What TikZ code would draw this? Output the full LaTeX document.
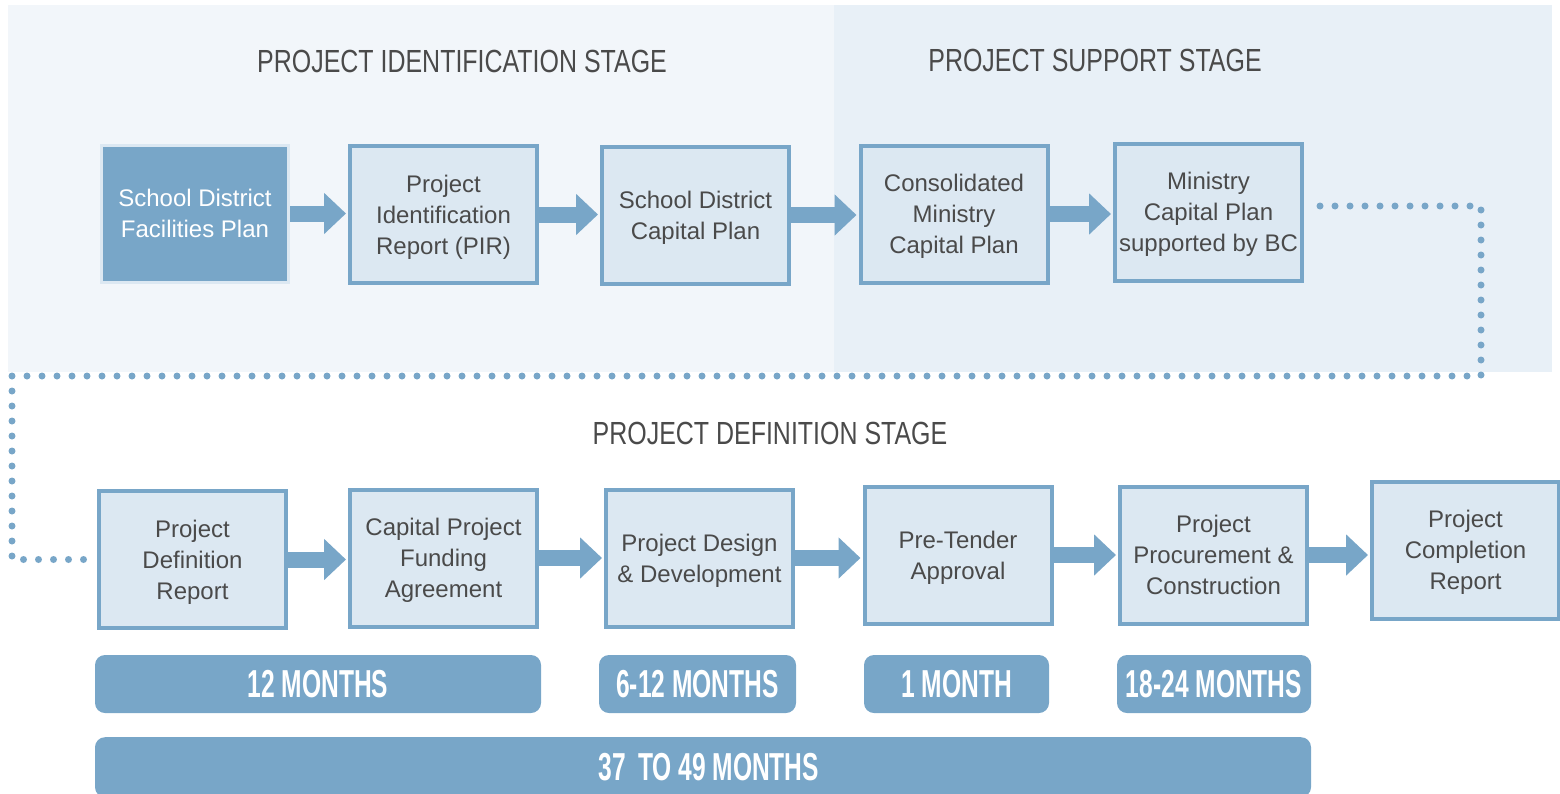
\documentclass[tikz,border=0pt]{standalone}
\usepackage{fontspec}
\setmainfont{Liberation Sans}
\newfontfamily\stagefont[FakeStretch=0.78]{Liberation Sans}
\newfontfamily\monthfont[FakeStretch=0.63]{Liberation Sans}
\usepackage{tikz}
\usetikzlibrary{positioning}
\usetikzlibrary{arrows.meta}
\usepackage{color}
\definecolor{planblue}{HTML}{78A6C8}
\definecolor{boxfill}{HTML}{DCE8F2}
\definecolor{panelleft}{HTML}{F2F6FA}
\definecolor{panelright}{HTML}{E8F0F7}
\definecolor{txtgray}{HTML}{4A4A4A}

\begin{document}
\begin{tikzpicture}[x=1pt, y=-1pt,
stagebox/.style={rectangle, draw=planblue, fill=boxfill, line width=4pt, minimum width=187pt, minimum height=137pt, inner sep=0pt, align=center, text depth=-3pt, text=txtgray, font=\fontsize{24}{31}\selectfont},
firstbox/.style={stagebox, draw=boxfill, fill=planblue, line width=3pt, text=white},
stagetitle/.style={anchor=base, inner sep=0pt, text=txtgray, font=\stagefont\fontsize{32}{36}\selectfont},
monthpill/.style={rectangle, rounded corners=10pt, fill=planblue, text=white, minimum height=58pt, inner sep=0pt, font=\monthfont\bfseries\fontsize{39}{40}\selectfont},
blockarrow/.style={draw=planblue, line width=16pt, -{Triangle[length=22pt, width=40pt]}, shorten >=2pt},
dotline/.style={draw=planblue, line width=7pt, line cap=round, dash pattern=on 0pt off 15pt},
]
\useasboundingbox (0,0) rectangle (1560,793);

%Panels
\fill[panelleft]  (8,5) rectangle (834,372);
\fill[panelright] (834,5) rectangle (1552,372);

%Titles
\node[stagetitle] (tid)  at (462,72)    {PROJECT IDENTIFICATION STAGE};
\node[stagetitle] (tsup) at (1095,71)   {PROJECT SUPPORT STAGE};
\node[stagetitle] (tdef) at (770,444.5) {PROJECT DEFINITION STAGE};

%Nodes
\node[firstbox] (sdfp) at (195,213.5)  {School District\\Facilities Plan};
\node[stagebox] (pir)  at (443.5,214.5) {Project\\Identification\\Report (PIR)};
\node[stagebox] (sdcp) at (695.5,215)  {School District\\Capital Plan};
\node[stagebox] (cmcp) at (954,214)    {Consolidated\\Ministry\\Capital Plan};
\node[stagebox] (mcp)  at (1208.5,212) {Ministry\\Capital Plan\\supported by BC};

\node[stagebox] (pdr)  at (192.5,559.5) {Project\\Definition\\Report};
\node[stagebox] (cpfa) at (443.5,558)  {Capital Project\\Funding\\Agreement};
\node[stagebox] (pdd)  at (699.5,558)  {Project Design\\\& Development};
\node[stagebox] (pta)  at (958,555)    {Pre-Tender\\Approval};
\node[stagebox] (ppc)  at (1213.5,555) {Project\\Procurement \&\\Construction};
\node[stagebox] (pcr)  at (1465.5,550) {Project\\Completion\\Report};

\node[monthpill, minimum width=446pt] (m12)   at (318,684)   {12 MONTHS};
\node[monthpill, minimum width=197pt] (m612)  at (697.5,684) {6-12 MONTHS};
\node[monthpill, minimum width=185pt] (m1)    at (956.5,684) {1 MONTH};
\node[monthpill, minimum width=194pt] (m1824) at (1214,684)  {18-24 MONTHS};
\node[monthpill, minimum width=1216pt, minimum height=60pt, anchor=north] (mtotal) at (703,737) {\hspace*{12pt}37\hspace{5pt} TO 49 MONTHS};

%Lines
\draw[blockarrow] (sdfp.east) -- (sdfp.east -| pir.west);
\draw[blockarrow] (pir.east)  -- (pir.east -| sdcp.west);
\draw[blockarrow] (sdcp.east) -- (sdcp.east -| cmcp.west);
\draw[blockarrow] (cmcp.east) -- (cmcp.east -| mcp.west);

\draw[blockarrow] (pdr.east)  -- (pdr.east -| cpfa.west);
\draw[blockarrow] (cpfa.east) -- (cpfa.east -| pdd.west);
\draw[blockarrow] (pdd.east)  -- (pdd.east -| pta.west);
\draw[blockarrow] (pta.east)  -- (pta.east -| ppc.west);
\draw[blockarrow] (ppc.east)  -- (ppc.east -| pcr.west);

\coordinate (turnright) at (1481,376);
\coordinate (turnleft)  at (12,376);
\draw[dotline] ([xshift=16pt, yshift=6pt]mcp.east) -| (turnright) -- (turnleft) |- ([xshift=-12pt]pdr.west);
\end{tikzpicture}
\end{document}
